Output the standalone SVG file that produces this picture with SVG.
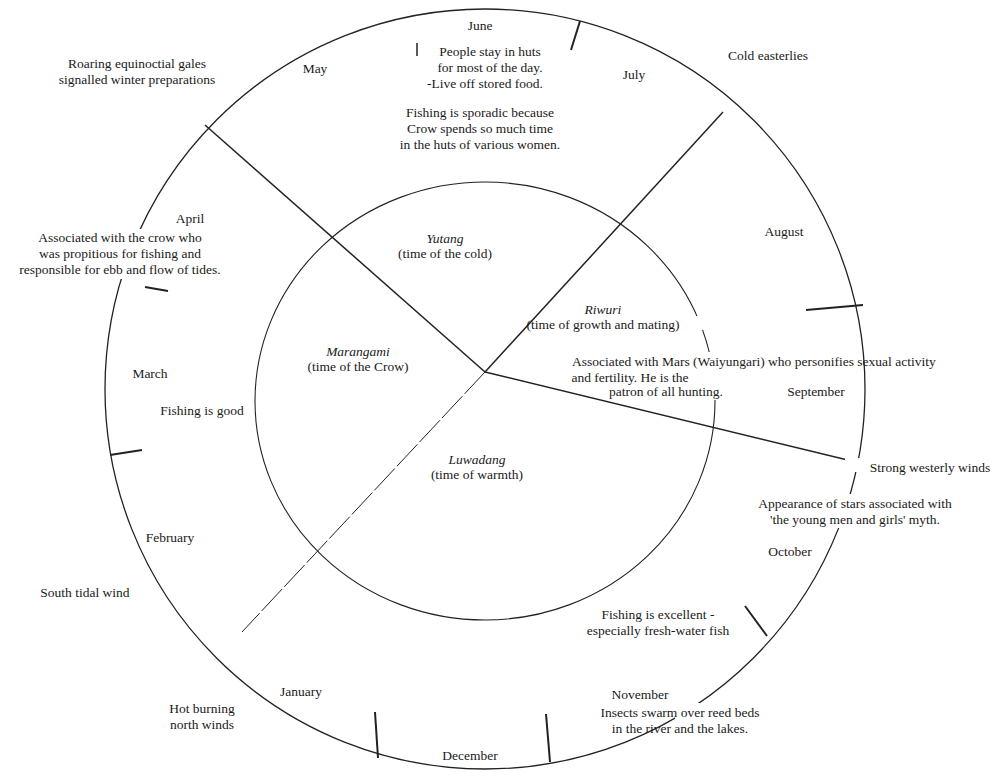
<svg xmlns="http://www.w3.org/2000/svg" width="1000" height="780" viewBox="0 0 1000 780">
<style>
text{font-family:"Liberation Serif","DejaVu Serif","Times New Roman",serif;font-size:13.5px;fill:#1a1a1a}
.c{text-anchor:middle}
.i{font-style:italic}
.ln{stroke:#222;fill:none}
.bg{fill:#fff;stroke:none}
</style>
<rect width="1000" height="780" fill="#fff"/>
<g id="rings">
<circle class="ln" cx="485" cy="389" r="380" stroke-width="1.3"/>
<ellipse class="ln" cx="485" cy="401" rx="230" ry="219" stroke-width="1.1"/>
</g>
<g id="connectors" class="ln">
<line x1="485" y1="372" x2="205" y2="125" stroke-width="1.5"/>
<line x1="485" y1="372" x2="723" y2="112" stroke-width="1.5"/>
<line x1="485" y1="372" x2="860" y2="463" stroke-width="1.5"/>
<line x1="485" y1="372" x2="242" y2="632" stroke-width="1" stroke-dasharray="30 3"/>
<line x1="580" y1="21" x2="571" y2="50" stroke-width="2"/>
<line x1="145" y1="287" x2="168" y2="291" stroke-width="2"/>
<line x1="110" y1="455" x2="142" y2="450" stroke-width="2"/>
<line x1="806" y1="310" x2="863" y2="305" stroke-width="2"/>
<line x1="767" y1="636" x2="745" y2="606" stroke-width="2"/>
<line x1="546" y1="714" x2="550" y2="762" stroke-width="2"/>
<line x1="375" y1="712" x2="378" y2="758" stroke-width="2"/>
</g>
<g id="masks">
<rect class="bg" x="110" y="229" width="60" height="50"/>
<rect class="bg" x="690" y="316" width="20" height="14"/>
<rect class="bg" x="700" y="352" width="30" height="48"/>
<rect class="bg" x="845" y="458" width="30" height="14"/>
<rect class="bg" x="755" y="494" width="110" height="34"/>
<rect class="bg" x="675" y="703" width="40" height="16"/>
</g>
<g id="months">
<text class="c" x="480" y="30">June</text>
<text class="c" x="315" y="73">May</text>
<text class="c" x="634" y="79">July</text>
<text class="c" x="784" y="236">August</text>
<text class="c" x="816" y="396">September</text>
<text class="c" x="790" y="556">October</text>
<text class="c" x="640" y="699">November</text>
<text class="c" x="470" y="760">December</text>
<text class="c" x="301" y="696">January</text>
<text class="c" x="170" y="542">February</text>
<text class="c" x="150" y="378">March</text>
<text class="c" x="190" y="223">April</text>
</g>
<g id="seasons">
<text class="c i" x="445" y="243">Yutang</text>
<text class="c" x="445" y="258">(time of the cold)</text>
<text class="c i" x="603" y="314">Riwuri</text>
<text class="c" x="603" y="329">(time of growth and mating)</text>
<text class="c i" x="358" y="356">Marangami</text>
<text class="c" x="358" y="371">(time of the Crow)</text>
<text class="c i" x="477" y="464">Luwadang</text>
<text class="c" x="477" y="479">(time of warmth)</text>
</g>
<g id="notes">
<text class="c" x="137" y="68">Roaring equinoctial gales</text>
<text class="c" x="137" y="84">signalled winter preparations</text>
<text class="c" x="490" y="56">People stay in huts</text>
<text class="c" x="490" y="72">for most of the day.</text>
<text class="c" x="485" y="88">-Live off stored food.</text>
<line x1="417" y1="43" x2="417" y2="56" stroke="#222" stroke-width="1.5"/>
<text class="c" x="480" y="117">Fishing is sporadic because</text>
<text class="c" x="480" y="133">Crow spends so much time</text>
<text class="c" x="480" y="149">in the huts of various women.</text>
<text class="c" x="768" y="60">Cold easterlies</text>
<text class="c" x="120" y="242">Associated with the crow who</text>
<text class="c" x="120" y="258">was propitious for fishing and</text>
<text class="c" x="120" y="274">responsible for ebb and flow of tides.</text>
<text class="c" x="202" y="415">Fishing is good</text>
<text x="572" y="366">Associated with Mars (Waiyungari) who personifies sexual activity</text>
<text class="c" x="630" y="382">and fertility. He is the</text>
<text class="c" x="666" y="396">patron of all hunting.</text>
<text class="c" x="930" y="472">Strong westerly winds</text>
<text class="c" x="855" y="508">Appearance of stars associated with</text>
<text class="c" x="855" y="524">'the young men and girls' myth.</text>
<text class="c" x="658" y="619">Fishing is excellent -</text>
<text class="c" x="658" y="635">especially fresh-water fish</text>
<text class="c" x="85" y="597">South tidal wind</text>
<text class="c" x="680" y="717">Insects swarm over reed beds</text>
<text class="c" x="680" y="733">in the river and the lakes.</text>
<text class="c" x="202" y="713">Hot burning</text>
<text class="c" x="202" y="729">north winds</text>
</g>
</svg>
